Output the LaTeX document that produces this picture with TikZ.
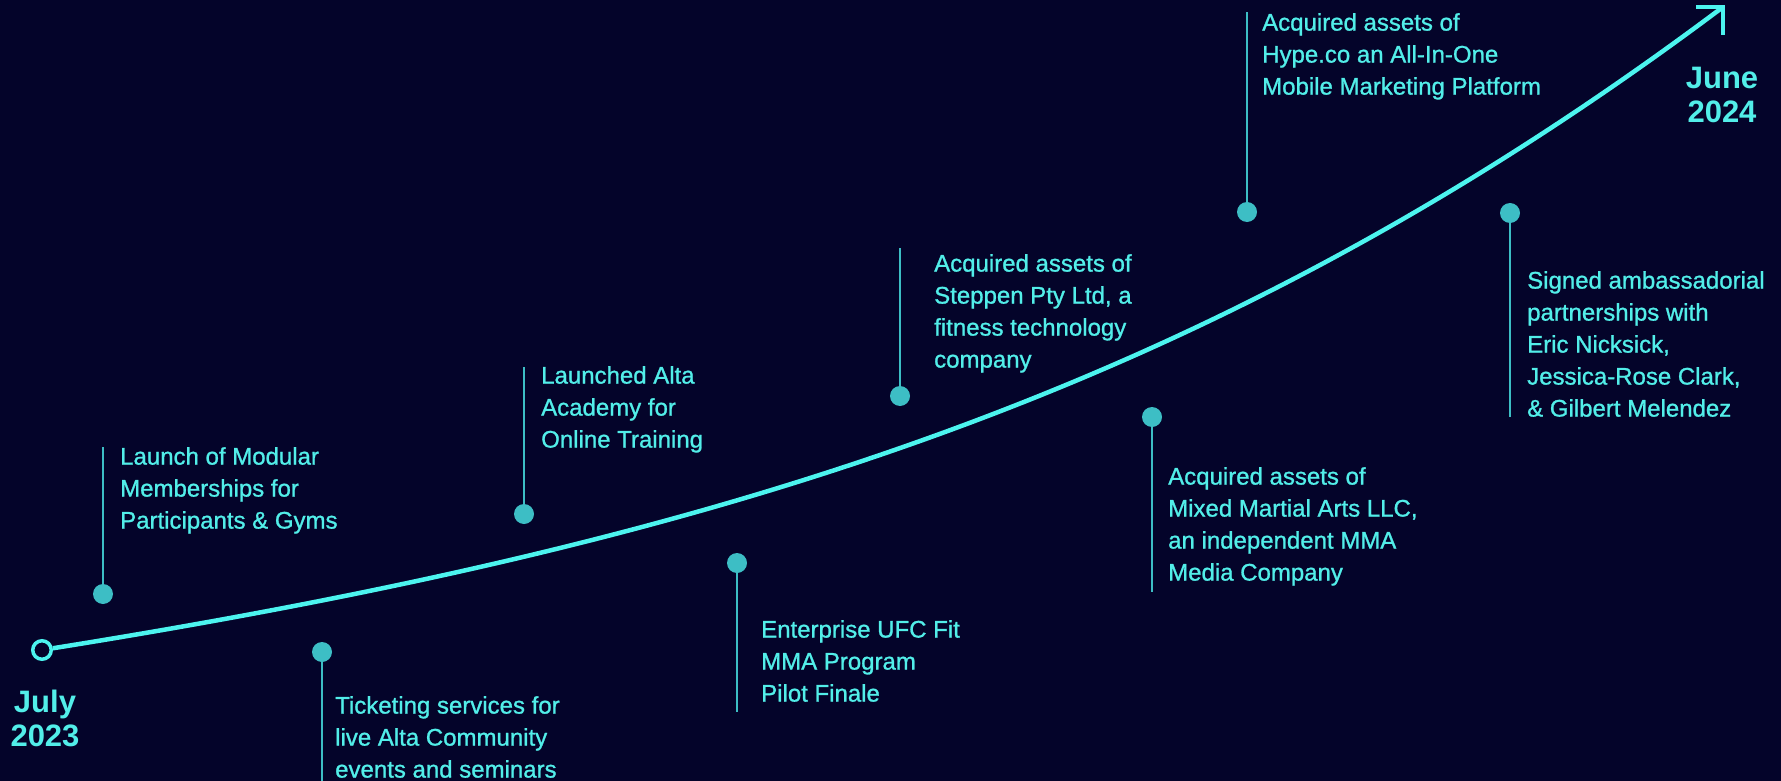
\documentclass[tikz,border=0pt]{standalone}
\usepackage{fontspec}
\setmainfont{Liberation Sans}
\newfontfamily\eventfont{Liberation Sans}[FakeBold=1]
\usepackage{xcolor}
\definecolor{background}{HTML}{04042A}
\definecolor{timeline}{HTML}{4CF4EF}
\definecolor{milestone}{HTML}{3DBEC5}
\definecolor{caption}{HTML}{52EEE9}
\usetikzlibrary{
    calc,
    positioning,
}
\tikzset{
    eventdot/.style={
            circle,
            fill=milestone,
            minimum size=20,
            inner sep=0,
        }
}
\tikzset{
    stemline/.style={
            draw=milestone,
            line width=2,
        }
}
\tikzset{
    eventtext/.style={
            anchor=north west,
            align=left,
            inner sep=0,
            text=caption,
            font=\eventfont\fontsize{24}{32}\selectfont,
        }
}
\tikzset{
    datetext/.style={
            anchor=north,
            align=center,
            inner sep=0,
            text=caption,
            font=\fontsize{31}{34}\selectfont\bfseries,
        }
}

\begin{document}
\begin{tikzpicture}[x=1pt, y=-1pt]
    % backdrop
    \fill[background] (0,0) rectangle (1781,781);
    \useasboundingbox (0,0) rectangle (1781,781);

    % start ring and end of the curve
    \node[
        circle,
        draw=timeline,
        line width=3.5,
        fill=background,
        minimum size=18.5,
        inner sep=0,
    ] (S) at (42,650) {};
    \coordinate (E) at (1723,7);

    % curve
    \draw[
        timeline,
        line width=4.5,
    ] (S) .. controls (742,538) and (1223,382) .. (E);
    \draw[
        timeline,
        line width=4.5,
        line join=miter,
    ] ($(E)+(-27,0)$) -- (E) -- ($(E)+(0,28)$);

    % dates
    \node[datetext] (start) at (45,690) {July\\2023};
    \node[datetext] (end) at (1722,67) {June\\2024};

    % milestone dots and their stems
    \foreach \n/\px/\py/\sy in {
            1/103/594/447,
            2/322/652/781,
            3/524/514/367,
            4/737/563/712,
            5/900/396/248,
            6/1152/417/592,
            7/1247/212/12,
            8/1510/213/417
        }
        {
            \coordinate (L-\n) at (\px,\sy);
            \draw[stemline] (\px,\py) -- (L-\n);
            \node[eventdot] (D-\n) at (\px,\py) {};
        }

    % milestone texts
    \node[eventtext] (T-1) at (120,447)
        {Launch of Modular\\Memberships for\\Participants \& Gyms};
    \node[eventtext] (T-2) at (335,696)
        {Ticketing services for\\live Alta Community\\events and seminars};
    \node[eventtext] (T-3) at (541,366)
        {Launched Alta\\Academy for\\Online Training};
    \node[eventtext] (T-4) at (761,620)
        {Enterprise UFC Fit\\MMA Program\\Pilot Finale};
    \node[eventtext] (T-5) at (934,254)
        {Acquired assets of\\Steppen Pty Ltd, a\\fitness technology\\company};
    \node[eventtext] (T-6) at (1168,467)
        {Acquired assets of\\Mixed Martial Arts LLC,\\an independent MMA\\Media Company};
    \node[eventtext] (T-7) at (1262,13)
        {Acquired assets of\\Hype.co an All-In-One\\Mobile Marketing Platform};
    \node[eventtext] (T-8) at (1527,271)
        {Signed ambassadorial\\partnerships with\\Eric Nicksick,\\Jessica-Rose Clark,\\\& Gilbert Melendez};
\end{tikzpicture}
\end{document}
